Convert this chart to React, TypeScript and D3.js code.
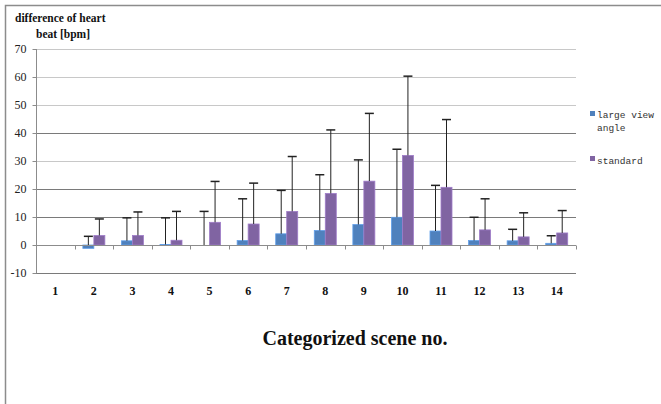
import React, { useEffect, useRef } from "react";
import * as d3 from "d3";

const categories = ["1", "2", "3", "4", "5", "6", "7", "8", "9", "10", "11", "12", "13", "14"];
const seriesNames = ["large view angle", "standard"];
const largeView = [0, -1.2, 1.5, 0.2, 0, 1.6, 4.0, 5.2, 7.3, 9.9, 5.0, 1.6, 1.5, 0.6];
const largeViewErr = [0, 3.1, 9.7, 9.7, 12.0, 16.5, 19.5, 25.1, 30.4, 34.2, 21.3, 9.9, 5.6, 3.3];
const standard = [0, 3.4, 3.4, 1.7, 8.1, 7.5, 12.0, 18.4, 22.8, 32.0, 20.6, 5.4, 2.9, 4.3];
const standardErr = [0, 9.3, 11.8, 12.0, 22.7, 22.1, 31.6, 41.1, 47.0, 60.3, 44.8, 16.5, 11.5, 12.3];
const yTicks = [-10, 0, 10, 20, 30, 40, 50, 60, 70];
const darkGrid = [-10, 10, 20, 40];

const colors = ["#4f81bd", "#8064a2"];
const serif = "'Liberation Serif', 'DejaVu Serif', serif";

const App = () => {
  const ref = useRef<SVGSVGElement>(null);

  useEffect(() => {
    drawChart();
  }, []);

  const drawChart = () => {
    const w = 661;
    const h = 404;
    const svg = d3.select(ref.current);
    svg.selectAll("*").remove();

    const left = 36, right = 576, top = 49, bottom = 273;

    // frame of the chart area
    svg.append("path")
      .attr("d", `M5.5,${h} V5.5 H${w}`)
      .attr("fill", "none")
      .attr("stroke", "#8c8c8c")
      .attr("stroke-width", 1.5);

    const x = d3.scaleBand().domain(categories).range([left, right]);
    const y = d3.scaleLinear().domain([-10, 70]).range([bottom, top]);

    // gridlines
    svg.append("g")
      .selectAll("line")
      .data(yTicks.filter((t) => t !== 0))
      .enter()
      .append("line")
      .attr("x1", left)
      .attr("x2", right)
      .attr("y1", (d) => Math.round(y(d)) + 0.5)
      .attr("y2", (d) => Math.round(y(d)) + 0.5)
      .attr("stroke", (d) => (darkGrid.includes(d) ? "#7a7a7a" : "#c8c8c8"))
      .attr("stroke-width", 1);

    // y axis
    const yAxis = svg.append("g").attr("transform", `translate(${left + 0.5},0)`);
    yAxis.append("line").attr("y1", top).attr("y2", bottom).attr("stroke", "#8c8c8c");
    yAxis.selectAll(".tk")
      .data(yTicks)
      .enter()
      .append("line")
      .attr("x1", -4)
      .attr("x2", 0)
      .attr("y1", (d) => Math.round(y(d)) + 0.5)
      .attr("y2", (d) => Math.round(y(d)) + 0.5)
      .attr("stroke", "#8c8c8c");
    yAxis.selectAll("text")
      .data(yTicks)
      .enter()
      .append("text")
      .attr("x", -10)
      .attr("y", (d) => y(d) + 4)
      .attr("text-anchor", "end")
      .attr("font-family", serif)
      .attr("font-size", 12)
      .attr("fill", "#222")
      .text((d) => d);

    // bars
    const inner = d3.scaleBand().domain(seriesNames).range([0, 22]);
    const off = (x.bandwidth() - 22) / 2;
    const series = [
      { name: seriesNames[0], values: largeView, errs: largeViewErr, color: colors[0] },
      { name: seriesNames[1], values: standard, errs: standardErr, color: colors[1] },
    ];

    series.forEach((s) => {
      const g = svg.append("g");
      const bx = (i: number) => (x(categories[i]) as number) + off + (inner(s.name) as number);
      g.selectAll("rect")
        .data(s.values)
        .enter()
        .append("rect")
        .attr("x", (d, i) => bx(i))
        .attr("y", (d) => y(Math.max(0, d)))
        .attr("width", inner.bandwidth())
        .attr("height", (d) => Math.abs(y(d) - y(0)))
        .attr("fill", s.color)
        .attr("stroke", d3.color(s.color)!.brighter(0.6).toString())
        .attr("stroke-width", 0.8);

      const cx = (i: number) => bx(i) + inner.bandwidth() / 2;
      const idx = s.errs.map((e, i) => i).filter((i) => s.errs[i] > 0);
      const eb = g.selectAll(".err").data(idx).enter().append("g");
      eb.append("line")
        .attr("x1", (i) => cx(i))
        .attr("x2", (i) => cx(i))
        .attr("y1", (i) => y(Math.max(0, s.values[i])))
        .attr("y2", (i) => y(s.errs[i]))
        .attr("stroke", "#222")
        .attr("stroke-width", 1);
      eb.append("line")
        .attr("x1", (i) => cx(i) - 4.5)
        .attr("x2", (i) => cx(i) + 4.5)
        .attr("y1", (i) => y(s.errs[i]))
        .attr("y2", (i) => y(s.errs[i]))
        .attr("stroke", "#222")
        .attr("stroke-width", 1.5);
    });

    // category axis on zero line
    const xAxis = svg.append("g").attr("transform", `translate(0,${Math.round(y(0)) + 0.5})`);
    xAxis.append("line").attr("x1", left).attr("x2", right).attr("stroke", "#8c8c8c");
    xAxis.selectAll(".tk")
      .data(categories)
      .enter()
      .append("line")
      .attr("x1", (d) => Math.round((x(d) as number) + x.bandwidth()) + 0.5)
      .attr("x2", (d) => Math.round((x(d) as number) + x.bandwidth()) + 0.5)
      .attr("y1", 0)
      .attr("y2", 4)
      .attr("stroke", "#8c8c8c");

    svg.append("g")
      .selectAll("text")
      .data(categories)
      .enter()
      .append("text")
      .attr("x", (d) => (x(d) as number) + x.bandwidth() / 2)
      .attr("y", 295)
      .attr("text-anchor", "middle")
      .attr("font-family", serif)
      .attr("font-weight", "bold")
      .attr("font-size", 12)
      .attr("fill", "#111")
      .text((d) => d);

    // titles
    svg.append("text")
      .attr("x", 15).attr("y", 22)
      .attr("font-family", serif).attr("font-weight", "bold").attr("font-size", 11.5)
      .attr("fill", "#111")
      .text("difference of heart");
    svg.append("text")
      .attr("x", 36).attr("y", 38)
      .attr("font-family", serif).attr("font-weight", "bold").attr("font-size", 11.5)
      .attr("fill", "#111")
      .text("beat [bpm]");
    svg.append("text")
      .attr("x", 355).attr("y", 345)
      .attr("text-anchor", "middle")
      .attr("font-family", serif).attr("font-weight", "bold").attr("font-size", 20)
      .attr("fill", "#111")
      .text("Categorized scene no.");

    // legend
    const legend = svg.append("g").attr("font-family", "'Liberation Mono', monospace").attr("font-size", 9.5).attr("fill", "#333");
    legend.append("rect").attr("x", 590).attr("y", 111).attr("width", 5).attr("height", 5).attr("fill", colors[0]);
    legend.append("text").attr("x", 597).attr("y", 118).text("large view");
    legend.append("text").attr("x", 597).attr("y", 131).text("angle");
    legend.append("rect").attr("x", 590).attr("y", 156).attr("width", 5).attr("height", 5).attr("fill", colors[1]);
    legend.append("text").attr("x", 597).attr("y", 164).text("standard");
  };

  return (
    <div style={{ position: "absolute", left: 0, top: 0 }}>
      <svg ref={ref} width={661} height={404} style={{ display: "block", background: "#fff" }} />
    </div>
  );
};

export default App;
